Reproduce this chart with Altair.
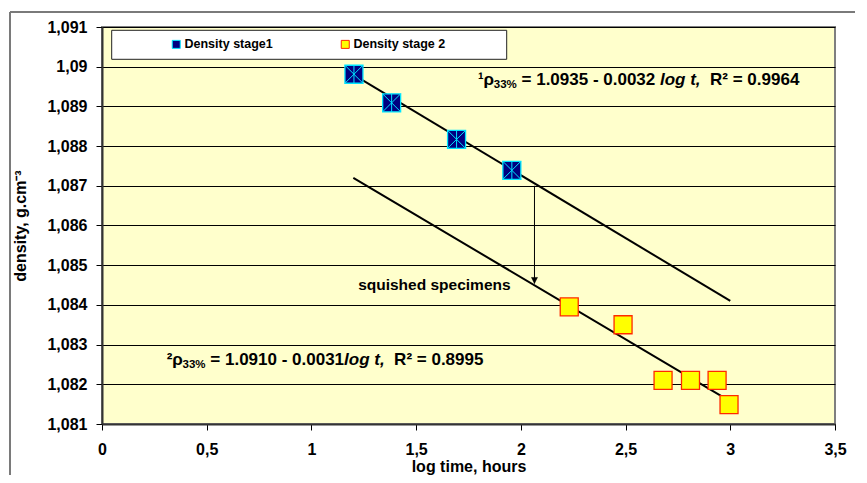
import altair as alt
import pandas as pd

# ---- data ----
s1_x = [1.203, 1.383, 1.693, 1.957]
s1_y = [1.08981, 1.08909, 1.08817, 1.08739]
s2_x = [2.231, 2.488, 2.679, 2.810, 2.937, 2.994]
s2_y = [1.08395, 1.0835, 1.0821, 1.0821, 1.0821, 1.08149]
series_names = ["Density stage1", "Density stage 2"]

t1_x = [1.2, 3.0]
t1_y = [1.0898, 1.0841]
t2_x = [1.2, 3.0]
t2_y = [1.0872, 1.08157]

arrow_x = [2.065]
arrow_y1 = [1.0870]
arrow_y2 = [1.08454]

x_ticks = [0, 0.5, 1, 1.5, 2, 2.5, 3, 3.5]
y_ticks = [1.081, 1.082, 1.083, 1.084, 1.085, 1.086, 1.087, 1.088, 1.089, 1.09, 1.091]

eq1_anchor = (1.795, 1.08966)
eq1_pieces = [("¹ρ", 17, False, 0), ("33%", 11.5, False, 5),
              (" = 1.0935 - 0.0032 ", 17, False, 0), ("log t,", 17, True, 0),
              ("  R² = 0.9964", 17, False, 0)]
eq2_anchor = (0.309, 1.0826)
eq2_pieces = [("²ρ", 17, False, 0), ("33%", 11.5, False, 5),
              (" = 1.0910 - 0.0031", 17, False, 0), ("log t,", 17, True, 0),
              ("  R² = 0.8995", 17, False, 0)]
note_anchor = (1.223, 1.08449)
note_text = "squished specimens"

FONT = "Liberation Sans"

# ---- scales / axes ----
xscale = alt.Scale(domain=[0, 3.5], nice=False, zero=False)
yscale = alt.Scale(domain=[1.081, 1.091], nice=False, zero=False)
xaxis = alt.Axis(values=x_ticks, labelExpr="replace(format(datum.value, '.1~f'), '.', ',')",
                 grid=False, title="log time, hours", tickSize=6, labelPadding=11,
                 labelFlush=False, titleY=34, titleBaseline="top")
yaxis = alt.Axis(values=y_ticks, labelExpr="replace(format(datum.value, '.4~f'), '.', ',')",
                 grid=True, title="density, g.cm⁻³", tickSize=6, labelPadding=9,
                 labelFlush=False,
                 titleX=-82, titleY=198.5, titleAngle=-90, titleAlign="center",
                 titleBaseline="middle")


def X(f):
    return alt.X(f, type="quantitative", scale=xscale, axis=xaxis)


def Y(f):
    return alt.Y(f, type="quantitative", scale=yscale, axis=yaxis)


pts = pd.DataFrame({
    "x": s1_x + s2_x,
    "y": s1_y + s2_y,
    "series": [series_names[0]] * len(s1_x) + [series_names[1]] * len(s2_x),
})
pts1 = pd.DataFrame({"x": s1_x, "y": s1_y})
trend = pd.DataFrame({"x": t1_x + t2_x, "y": t1_y + t2_y, "g": ["a"] * 2 + ["b"] * 2})
arrow = pd.DataFrame({"x": arrow_x, "y": arrow_y1, "y2": arrow_y2})

# decorations (outer frame and legend box)
frame_left = alt.Chart(pd.DataFrame({"a": [0]})).mark_rule(color="#7a7a7a", strokeWidth=2).encode(
    x=alt.value(-92), y=alt.value(-15), y2=alt.value(480))
frame_top = alt.Chart(pd.DataFrame({"a": [0]})).mark_rule(color="#7a7a7a", strokeWidth=2).encode(
    x=alt.value(-92), x2=alt.value(780), y=alt.value(-15))
legend_box = alt.Chart(pd.DataFrame({"a": [0]})).mark_rect(
    fill="white", stroke="#222", strokeWidth=1).encode(
    x=alt.value(9.7), x2=alt.value(404.7), y=alt.value(3.3), y2=alt.value(32.3))

lines = alt.Chart(trend).mark_line(color="black", strokeWidth=2).encode(
    x=X("x"), y=Y("y"), detail="g:N")

arrow_rule = alt.Chart(arrow).mark_rule(color="black", strokeWidth=1).encode(
    x=X("x"), y=Y("y"), y2="y2")
arrow_head = alt.Chart(arrow).mark_point(
    shape="M0,0L-0.85,-1.7L0.85,-1.7Z", size=50, filled=True, fill="black",
    stroke="black", strokeWidth=0.5, opacity=1).encode(x=X("x"), y=Y("y2"))

squares = alt.Chart(pts).mark_square(size=324, strokeWidth=1.3, opacity=1, filled=True).encode(
    x=X("x"), y=Y("y"),
    fill=alt.Fill("series:N", scale=alt.Scale(domain=series_names, range=["#000080", "#FFFF00"]),
                  legend=alt.Legend(title=None)),
    stroke=alt.Stroke("series:N", scale=alt.Scale(domain=series_names, range=["#00E5FF", "#FF2A00"]),
                      legend=alt.Legend(title=None)),
)
stars = alt.Chart(pts1).mark_point(
    shape="M-1,-1L1,1M-1,1L1,-1M0,-1L0,1", size=324, filled=False,
    stroke="#00E5FF", strokeWidth=1, opacity=1).encode(x=X("x"), y=Y("y"))

W = {' ': 278, '%': 889, ',': 278, '-': 333, '.': 278, '=': 584, 'R': 722, 'l': 278,
     'o': 611, 'g': 611, 't': 333, '¹': 333, '²': 333, 'ρ': 600}


def tw(s, size):
    return sum(W.get(c, 556) for c in s) * size / 1000.0


def equation(anchor, pieces):
    layers = []
    cur = 0.0
    d = pd.DataFrame({"x": [anchor[0]], "y": [anchor[1]]})
    for text, size, italic, dy in pieces:
        lead = len(text) - len(text.lstrip(" "))
        cur += lead * 278 * size / 1000.0
        st = text.strip(" ")
        layers.append(alt.Chart(d).mark_text(
            text=st, align="left", baseline="middle", dx=cur, dy=dy, font=FONT,
            fontSize=size, fontWeight="bold", fontStyle="italic" if italic else "normal",
            color="black").encode(x=X("x"), y=Y("y")))
        cur += tw(st, size)
        trail = len(text) - lead - len(st)
        cur += trail * 278 * size / 1000.0
    return layers


note = alt.Chart(pd.DataFrame({"x": [note_anchor[0]], "y": [note_anchor[1]]})).mark_text(
    text=note_text, align="left", baseline="middle", font=FONT, fontSize=15.5,
    fontWeight="bold", color="black").encode(x=X("x"), y=Y("y"))

layers = [frame_left, frame_top, legend_box, lines, arrow_rule, arrow_head, squares, stars, note]
layers += equation(eq1_anchor, eq1_pieces)
layers += equation(eq2_anchor, eq2_pieces)

chart = alt.layer(*layers).properties(
    width=733, height=397,
    autosize=alt.AutoSizeParams(type="none"),
    padding={"left": 94, "top": 19, "right": 20, "bottom": 51},
    background="white",
).configure_view(
    fill="#FFFFCC", stroke="#7f7f7f", strokeWidth=2
).configure_axis(
    labelFont=FONT, labelFontSize=16, labelFontWeight="bold", labelColor="black",
    titleFont=FONT, titleFontSize=16, titleFontWeight="bold", titleColor="black",
    domainColor="#333333", domainWidth=2, tickColor="black", tickWidth=1,
    gridColor="black", gridWidth=1, gridOpacity=1,
).configure_legend(
    orient="none", legendX=68, legendY=11, direction="horizontal", padding=0,
    symbolType="square", symbolSize=64, symbolStrokeWidth=1, symbolOpacity=1,
    labelFont=FONT, labelFontSize=12.5, labelFontWeight="bold", labelColor="black",
    columnPadding=66, labelOffset=2,
)

chart.save("out.html", embed_options={"renderer": "svg", "actions": False})
